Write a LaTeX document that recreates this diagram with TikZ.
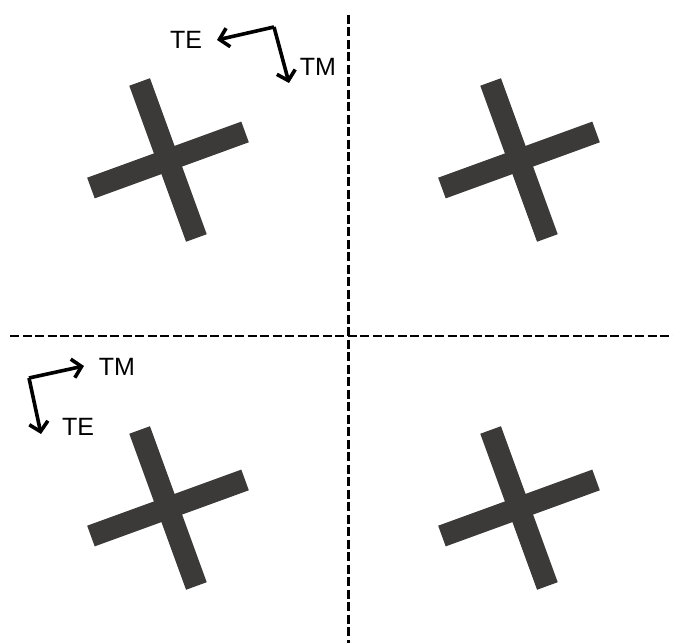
\documentclass[tikz,border=0pt]{standalone}
\usepackage{fontspec}
\setmainfont{Liberation Sans}
\usetikzlibrary{positioning, arrows.meta}

\definecolor{crossgray}{RGB}{60,58,56}

\tikzset{
    dashline/.style={line width=2.6pt, dash pattern=on 9pt off 3.5pt},
    polarrow/.style={line width=3.6pt, -{Straight Barb[length=9pt,width=19pt]}},
    pollabel/.style={font=\fontsize{25}{28}\selectfont, inner sep=0pt}
}

\begin{document}
\begin{tikzpicture}[x=1pt, y=1pt]

    \useasboundingbox (0,0) rectangle (673,643);

    % quadrant dividers
    \draw[dashline] (348.5,628) -- (348.5,0);
    \draw[dashline] (10,307) -- (673,307);

    % tilted crosses, one in each quadrant
    \foreach \cx/\cy in {168/483, 519/483, 168/135, 519/135} {
        \begin{scope}[shift={(\cx,\cy)}, rotate=20]
            \fill[crossgray] (-82,-11) rectangle (82,11);
            \fill[crossgray] (-11,-83) rectangle (11,83);
        \end{scope}
    }

    % polarisation axes, top left
    \coordinate (cnrA) at (274,616);
    \coordinate (teTipA) at (217,603);
    \coordinate (tmTipA) at (289,560);
    \node[pollabel] (teA) at (186,603) {TE};
    \node[pollabel] (tmA) at (318,576) {TM};
    \draw[polarrow] (cnrA) -- (teTipA);
    \draw[polarrow] (cnrA) -- (tmTipA);

    % polarisation axes, bottom left
    \coordinate (cnrB) at (29,265);
    \coordinate (tmTipB) at (84,277);
    \coordinate (teTipB) at (41,209);
    \node[pollabel] (tmB) at (117,276) {TM};
    \node[pollabel] (teB) at (78,216) {TE};
    \draw[polarrow] (cnrB) -- (tmTipB);
    \draw[polarrow] (cnrB) -- (teTipB);

\end{tikzpicture}
\end{document}
